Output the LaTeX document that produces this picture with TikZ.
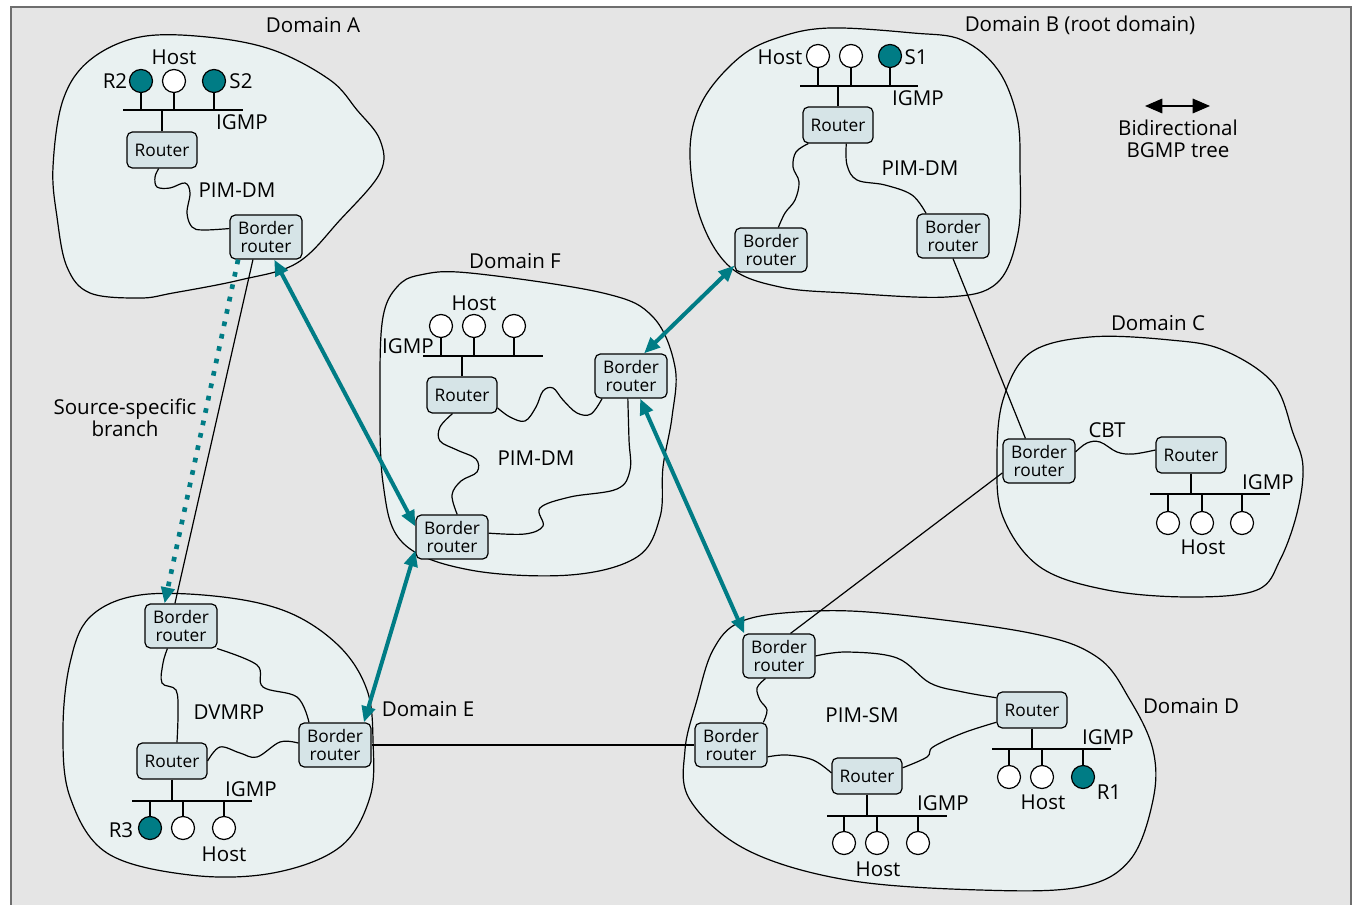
\documentclass[tikz,border=0pt]{standalone}
\usepackage{fontspec}
\setmainfont{Open Sans}
\usetikzlibrary{arrows.meta}
\definecolor{bgGray}{RGB}{229,229,229}
\definecolor{frameGray}{RGB}{110,110,110}
\definecolor{domFill}{RGB}{233,241,241}
\definecolor{boxFill}{RGB}{214,228,231}
\definecolor{bgmpTeal}{RGB}{0,124,133}
\begin{document}
\begin{tikzpicture}[x=0.75pt,y=-0.75pt,
        every node/.style={font=\fontsize{15.4}{16.5}\selectfont},
        lbl/.style={inner sep=0pt,align=center},
        rbox/.style={draw,line width=0.9pt,rounded corners=4pt,fill=boxFill,inner sep=0pt,align=center,
            minimum width=52.5pt,minimum height=27pt,font=\fontsize{13}{13.3}\selectfont},
        bbox/.style={rbox,minimum width=54pt,minimum height=33pt},
        host/.style={circle,draw,line width=0.9pt,fill=white,inner sep=0pt,minimum size=17.25pt},
        rcv/.style={host,fill=bgmpTeal},
        domblob/.style={draw,line width=0.9pt,fill=domFill},
        wire/.style={line width=0.9pt},
        bgmp/.style={bgmpTeal,line width=3pt,arrows={Triangle[length=12pt,width=10pt]-Triangle[length=12pt,width=10pt]}},
        branch/.style={bgmpTeal,line width=3.5pt,dash pattern=on 3.5pt off 6pt,arrows={-Triangle[length=12pt,width=10pt]}}]
                \useasboundingbox (0,0) rectangle (1355,905);
                \fill[bgGray] (11,7) rectangle (1351,905);
                \draw[frameGray,line width=1.2pt] (11,905) -- (11,7) -- (1351,7) -- (1351,905);

                \draw[domblob] plot[smooth cycle,tension=0.6] coordinates {(53,167) (63,100) (90,60) (140,37) (207,37) (273,50) (330,80) (357,110) (380,140) (380,173) (340,220) (297,263) (240,280) (173,293) (140,298) (90,293) (67,267) (57,217)};
                \draw[domblob] plot[smooth cycle,tension=0.6] coordinates {(780,37) (830,28) (913,33) (962,40) (998,70) (1017,117) (1020,167) (1018,233) (997,283) (947,297) (847,293) (780,287) (730,267) (700,217) (690,150) (703,100) (740,57)};
                \draw[domblob] plot[smooth cycle,tension=0.6] coordinates {(420,275) (470,273) (603,293) (653,317) (675,367) (672,417) (663,467) (660,517) (637,557) (570,575) (470,570) (403,543) (383,483) (380,383) (383,317) (397,287)};
                \draw[domblob] plot[smooth cycle,tension=0.6] coordinates {(1090,337) (1170,340) (1223,350) (1273,383) (1293,433) (1303,467) (1297,513) (1280,560) (1257,590) (1190,597) (1107,590) (1040,567) (1003,517) (997,460) (1003,400) (1030,353)};
                \draw[domblob] plot[smooth cycle,tension=0.6] coordinates {(140,595) (223,597) (290,613) (340,647) (367,690) (373,740) (370,797) (340,847) (273,873) (190,875) (107,853) (70,797) (63,730) (70,663) (90,617)};
                \draw[domblob] plot[smooth cycle,tension=0.6] coordinates {(797,612) (880,613) (1030,633) (1097,657) (1130,700) (1153,750) (1153,800) (1130,860) (1080,887) (980,890) (847,880) (747,850) (690,800) (685,750) (697,700) (713,650) (740,622)};

                \node[lbl] (dA) at (313,25) {Domain A};
                \node[lbl] (dB) at (1080,25) {Domain B (root domain)};
                \node[lbl] (dF) at (515,261) {Domain F};
                \node[lbl] (dC) at (1158,323) {Domain C};
                \node[lbl] (dE) at (428,709) {Domain E};
                \node[lbl] (dD) at (1191,706) {Domain D};
                \node[lbl] (ssb) at (125,418) {Source-specific\\branch};
                \node[lbl] (lg) at (1178,139) {Bidirectional\\BGMP tree};
                \coordinate (lgL) at (1145,106);
                \coordinate (lgR) at (1210,106);
                \draw[line width=0.9pt,arrows={Triangle[length=13pt,width=11pt]-Triangle[length=13pt,width=11pt]}] (lgL) -- (lgR);

                \node[rcv] (hA1) at (141,81) {};
                \node[host] (hA2) at (174,81) {};
                \node[rcv] (hA3) at (214,81) {};
                \node[lbl] (tR2) at (115,81) {R2};
                \node[lbl] (tS2) at (241,81) {S2};
                \node[lbl] (hostA) at (174,57) {Host};
                \node[lbl] (igmpA) at (242,122) {IGMP};
                \node[lbl] (pimA) at (237,190) {PIM-DM};
                \coordinate (busA1) at (123,110);
                \coordinate (busA2) at (243,110);
                \node[rbox] (rA) at (162,150) {Router};
                \node[bbox] (brA) at (266,237) {Border\\router};
                \draw[wire] (busA1) -- (busA2);
                \foreach \h in {hA1,hA2,hA3} \draw[wire] (\h) -- (\h |- busA1);
                \draw[wire] (rA) -- (rA |- busA1);
                \draw[wire] plot[smooth,tension=0.6] coordinates {(rA.-100) (155,177) (157,187) (170,188) (185,183) (190,193) (187,213) (192,227) (203,230) (brA.167)};

                \node[host] (hB1) at (818,56) {};
                \node[host] (hB2) at (851,56) {};
                \node[rcv] (hB3) at (890,56) {};
                \node[lbl] (hostB) at (780,57) {Host};
                \node[lbl] (tS1) at (916,57) {S1};
                \node[lbl] (igmpB) at (918,98) {IGMP};
                \node[lbl] (pimB) at (920,168) {PIM-DM};
                \coordinate (busB1) at (800,86);
                \coordinate (busB2) at (918,86);
                \node[rbox] (rB) at (838,125) {Router};
                \node[bbox] (brB1) at (771,250) {Border\\router};
                \node[bbox] (brB2) at (953,236) {Border\\router};
                \draw[wire] (busB1) -- (busB2);
                \foreach \h in {hB1,hB2,hB3} \draw[wire] (\h) -- (\h |- busB1);
                \draw[wire] (rB) -- (rB |- busB1);
                \draw[wire] plot[smooth,tension=0.6] coordinates {(rB.-148) (796,152) (793,167) (799,182) (795,200) (785,213) (brB1.72)};
                \draw[wire] plot[smooth,tension=0.6] coordinates {(rB.-66) (847,165) (857,180) (885,185) (912,195) (brB2.140)};

                \node[host] (hF1) at (441,326) {};
                \node[host] (hF2) at (474,326) {};
                \node[host] (hF3) at (514,326) {};
                \node[lbl] (hostF) at (474,303) {Host};
                \node[lbl] (igmpF) at (408,346) {IGMP};
                \node[lbl] (pimF) at (536,458) {PIM-DM};
                \coordinate (busF1) at (423,356);
                \coordinate (busF2) at (543,356);
                \node[rbox] (rF) at (462,395) {Router};
                \node[bbox] (brF1) at (631,376) {Border\\router};
                \node[bbox] (brF2) at (452,537) {Border\\router};
                \draw[wire] (busF1) -- (busF2);
                \foreach \h in {hF1,hF2,hF3} \draw[wire] (\h) -- (\h |- busF1);
                \draw[wire] (rF) -- (rF |- busF1);
                \draw[wire] plot[smooth,tension=0.6] coordinates {(rF.-20) (510,417) (525,421) (536,407) (543,391) (553,388) (563,400) (577,413) (591,414) (brF1.-142)};
                \draw[wire] plot[smooth,tension=0.6] coordinates {(rF.-117) (440,427) (440,441) (457,450) (476,459) (477,472) (461,481) (452,495) (brF2.77)};
                \draw[wire] plot[smooth,tension=0.6] coordinates {(brF1.-98) (629,440) (630,470) (617,489) (570,497) (540,508) (543,526) (525,534) (brF2.6)};

                \node[host] (hC1) at (1168,523) {};
                \node[host] (hC2) at (1202,523) {};
                \node[host] (hC3) at (1242,523) {};
                \node[lbl] (hostC) at (1203,547) {Host};
                \node[lbl] (igmpC) at (1268,482) {IGMP};
                \node[lbl] (cbt) at (1107,430) {CBT};
                \coordinate (busC1) at (1150,494);
                \coordinate (busC2) at (1270,494);
                \node[rbox] (rC) at (1191,455) {Router};
                \node[bbox] (brC) at (1039,461) {Border\\router};
                \draw[wire] (busC1) -- (busC2);
                \foreach \h in {hC1,hC2,hC3} \draw[wire] (\h) -- (\h |- busC1);
                \draw[wire] (rC) -- (rC |- busC1);
                \draw[wire] plot[smooth,tension=0.6] coordinates {(brC.14) (1087,443) (1100,442) (1117,452) (1133,454) (rC.172)};

                \node[rcv] (hE1) at (150,828) {};
                \node[host] (hE2) at (183,828) {};
                \node[host] (hE3) at (224,828) {};
                \node[lbl] (tR3) at (121,830) {R3};
                \node[lbl] (hostE) at (224,854) {Host};
                \node[lbl] (igmpE) at (251,789) {IGMP};
                \node[lbl] (dvmrp) at (229,712) {DVMRP};
                \coordinate (busE1) at (132,801);
                \coordinate (busE2) at (252,801);
                \node[rbox] (rE) at (172,761) {Router};
                \node[bbox] (brE1) at (181,626) {Border\\router};
                \node[bbox] (brE2) at (335,745) {Border\\router};
                \draw[wire] (busE1) -- (busE2);
                \foreach \h in {hE1,hE2,hE3} \draw[wire] (\h) -- (\h |- busE1);
                \draw[wire] (rE) -- (rE |- busE1);
                \draw[wire] plot[smooth,tension=0.6] coordinates {(brE1.-121) (163,663) (162,683) (176,690) (178,713) (rE.75)};
                \draw[wire] plot[smooth,tension=0.6] coordinates {(brE1.-32) (257,665) (263,687) (297,697) (brE2.139)};
                \draw[wire] plot[smooth,tension=0.6] coordinates {(rE.east) (220,747) (240,753) (257,757) (280,742) (brE2.177)};

                \node[host] (hD1) at (844,843) {};
                \node[host] (hD2) at (877,843) {};
                \node[host] (hD3) at (918,843) {};
                \node[host] (hD4) at (1009,777) {};
                \node[host] (hD5) at (1042,777) {};
                \node[rcv] (hD6) at (1083,777) {};
                \node[lbl] (hostD1) at (878,869) {Host};
                \node[lbl] (igmpD1) at (943,803) {IGMP};
                \node[lbl] (hostD2) at (1043,802) {Host};
                \node[lbl] (igmpD2) at (1108,737) {IGMP};
                \node[lbl] (tR1) at (1109,792) {R1};
                \node[lbl] (pimD) at (862,715) {PIM-SM};
                \coordinate (busD1) at (827,816);
                \coordinate (busD2) at (947,816);
                \coordinate (busD3) at (992,749);
                \coordinate (busD4) at (1111,749);
                \node[rbox] (rD1) at (867,776) {Router};
                \node[rbox] (rD2) at (1032,710) {Router};
                \node[bbox] (brD1) at (779,656) {Border\\router};
                \node[bbox] (brD2) at (731,745) {Border\\router};
                \draw[wire] (busD1) -- (busD2);
                \draw[wire] (busD3) -- (busD4);
                \foreach \h in {hD1,hD2,hD3} \draw[wire] (\h) -- (\h |- busD1);
                \foreach \h in {hD4,hD5,hD6} \draw[wire] (\h) -- (\h |- busD3);
                \draw[wire] (rD1) -- (rD1 |- busD1);
                \draw[wire] (rD2) -- (rD2 |- busD3);
                \draw[wire] plot[smooth,tension=0.6] coordinates {(brD1.-121) (757,688) (760,700) (767,710) (brD2.35)};
                \draw[wire] plot[smooth,tension=0.6] coordinates {(brD1.east) (847,652) (897,658) (930,683) (963,692) (rD2.161)};
                \draw[wire] plot[smooth,tension=0.6] coordinates {(brD2.-18) (787,755) (813,760) (rD1.175)};
                \draw[wire] plot[smooth,tension=0.6] coordinates {(rD1.13) (927,757) (933,747) (963,733) (rD2.-161)};

                \draw[wire] (brA.-120) -- (brE1.105);
                \draw[wire] (brB2.south) -- (brC.121);
                \draw[wire] (brC.198) -- (brD1.63);
                \draw[wire] (brE2.east) -- (brD2.west);
                \draw[branch] (brA.-141) -- (brE1.126);
                \draw[bgmp] (brA.-70) -- (brF2.164);
                \draw[bgmp] (brF2.200) -- (brE2.38);
                \draw[bgmp] (brF1.60) -- (brB1.203);
                \draw[bgmp] (brF1.-68) -- (brD1.147);
\end{tikzpicture}
\end{document}
